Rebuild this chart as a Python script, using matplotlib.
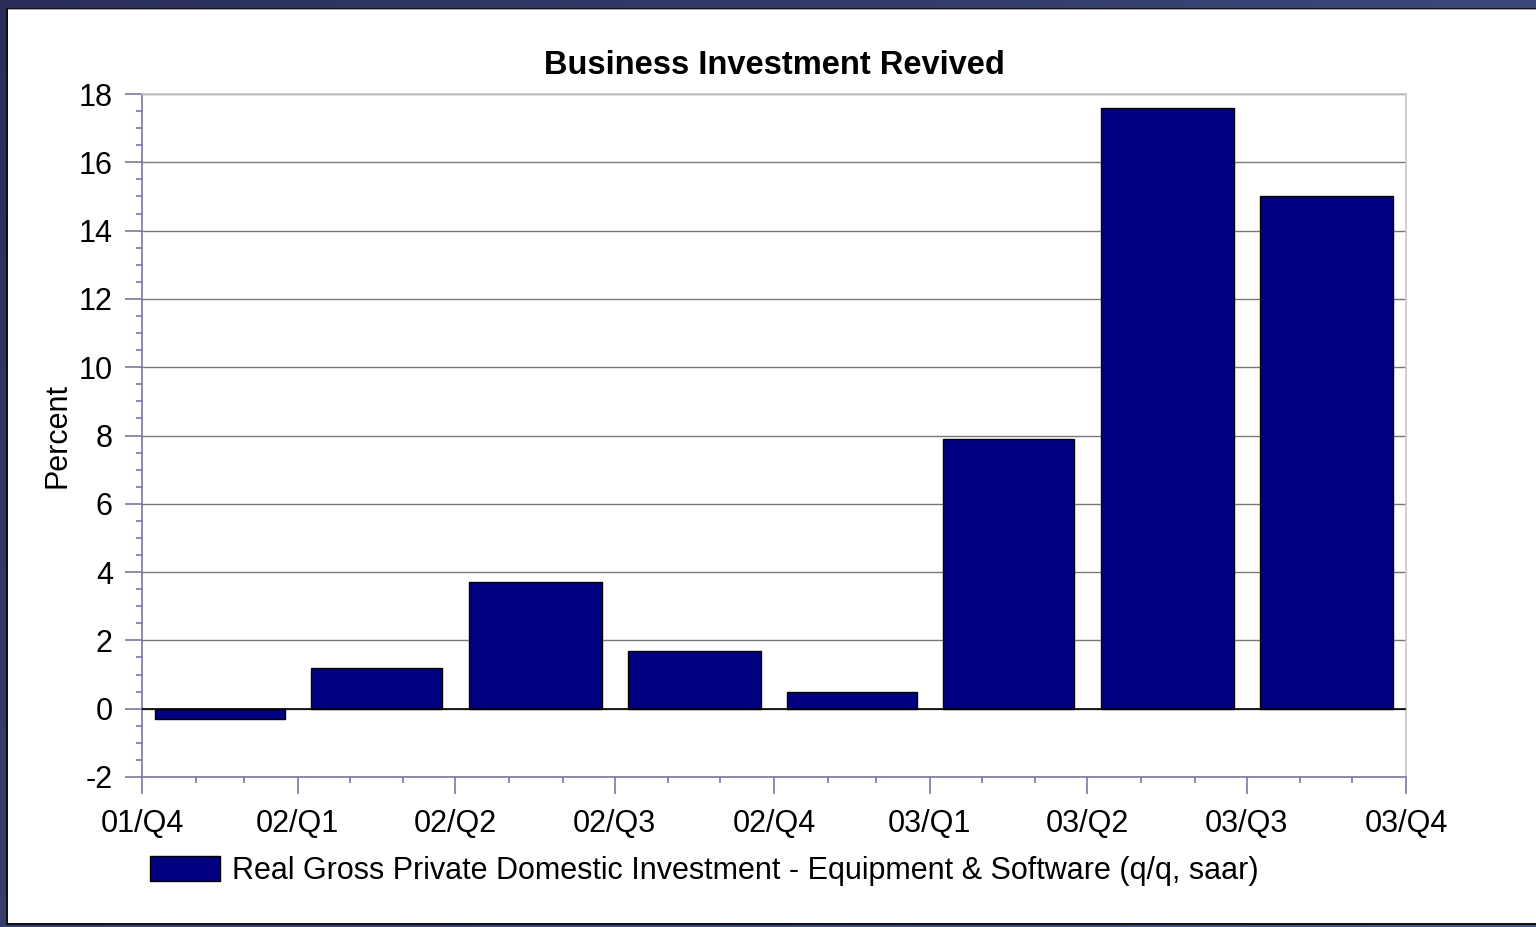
import datetime as dt
import numpy as np
import pandas as pd
import matplotlib
matplotlib.use("Agg")
import matplotlib.pyplot as plt
import matplotlib.dates as mdates
from matplotlib.patches import Rectangle
from matplotlib.ticker import MultipleLocator, FixedLocator

plt.rcParams['font.family'] = ['Liberation Sans', 'DejaVu Sans']
plt.rcParams['axes.unicode_minus'] = False

# Quarter boundaries (axis tick positions) and their labels
tick_labels = ["01/Q4", "02/Q1", "02/Q2", "02/Q3", "02/Q4",
               "03/Q1", "03/Q2", "03/Q3", "03/Q4"]
tick_dates = [dt.date(2001, 12, 31), dt.date(2002, 3, 31), dt.date(2002, 6, 30),
              dt.date(2002, 9, 30), dt.date(2002, 12, 31), dt.date(2003, 3, 31),
              dt.date(2003, 6, 30), dt.date(2003, 9, 30), dt.date(2003, 12, 31)]

# Quarterly growth, q/q saar (%), one value per quarter ending at ticks 2..9
quarters = ["02/Q1", "02/Q2", "02/Q3", "02/Q4", "03/Q1", "03/Q2", "03/Q3", "03/Q4"]
growth = [-0.3, 1.2, 3.7, 1.7, 0.5, 7.9, 17.6, 15.0]

series_name = "Real Gross Private Domestic Investment - Equipment & Software (q/q, saar)"
title = "Business Investment Revived"

W, H = 1536, 927
fig = plt.figure(figsize=(W / 100, H / 100), dpi=100)

# Dark slide frame with a soft gradient, white panel on top
bg = fig.add_axes([0, 0, 1, 1], zorder=-10)
bg.set_axis_off()
gx = np.linspace(0, 1, 256)
gy = np.linspace(0, 1, 64)
grad = 0.6 * gx[None, :] + 0.4 * gy[:, None]
c0 = np.array([0x2a, 0x2e, 0x58]) / 255
c1 = np.array([0x4a, 0x57, 0x8e]) / 255
img = c0[None, None, :] + (c1 - c0)[None, None, :] * grad[:, :, None]
bg.imshow(img, extent=[0, 1, 0, 1], aspect='auto', origin='upper')
bg.set_xlim(0, 1)
bg.set_ylim(0, 1)
bg.add_patch(Rectangle((6 / W, 1 - 925 / H), 1, (925 - 7.5) / H,
                       facecolor='#111111', edgecolor='none'))
bg.add_patch(Rectangle((7.5 / W, 1 - 923 / H), 1, (923 - 9) / H,
                       facecolor='#a8a8a8', edgecolor='none'))
bg.add_patch(Rectangle((8 / W, 1 - 922.5 / H), 1, (922.5 - 10) / H,
                       facecolor='white', edgecolor='none'))

ax = fig.add_axes([142 / W, 1 - 777 / H, (1406 - 142) / W, (777 - 94) / H])
ax.set_facecolor('white')

edges = np.asarray(mdates.date2num(tick_dates))
spans = np.diff(edges)
centers = edges[:-1] + spans / 2
widths = spans * 0.835

bars = ax.bar(centers, growth, width=widths, color='#000080',
              edgecolor='black', linewidth=1.0, zorder=3, label=series_name)

ax.set_xlim(edges[0], edges[-1])
ax.set_ylim(-2, 18)

ax.yaxis.set_major_locator(MultipleLocator(2))
ax.yaxis.set_minor_locator(MultipleLocator(0.5))
ax.set_xticks(edges)
ax.set_xticklabels(tick_labels)
month_ends = mdates.date2num(
    [d.date() for d in pd.date_range(tick_dates[0], tick_dates[-1], freq='ME')])
ax.xaxis.set_minor_locator(FixedLocator([m for m in month_ends if m not in edges]))

axis_col = '#7878a0'
ax.grid(axis='y', which='major', color='#777777', linewidth=1.0, zorder=0)
ax.set_axisbelow(True)
ax.axhline(0, color='black', linewidth=1.2, zorder=4)

for side in ('top', 'right'):
    ax.spines[side].set_color('#c8c8c8')
    ax.spines[side].set_linewidth(1.2)
for side in ('left', 'bottom'):
    ax.spines[side].set_color(axis_col)
    ax.spines[side].set_linewidth(1.2)

ax.tick_params(axis='both', which='major', direction='out', length=12,
               width=1.2, color=axis_col, labelsize=22, pad=9)
ax.tick_params(axis='both', which='minor', direction='out', length=4,
               width=1.2, color=axis_col)
ax.tick_params(axis='x', which='major', pad=11)

ax.set_ylabel("Percent", fontsize=22, va='center')
ax.yaxis.set_label_coords((57 - 142) / (1406 - 142), 0.5)

fig.text((142 + 1406) / 2 / W, 1 - 66 / H, title, ha='center', va='center',
         fontsize=23.5, fontweight='bold')

fig.legend(handles=[bars], labels=[series_name], loc='center left',
           bbox_to_anchor=(150 / W, 1 - 871 / H), frameon=False,
           fontsize=22, handlelength=2.3, handleheight=0.85,
           handletextpad=0.4, borderpad=0, borderaxespad=0)

fig.savefig("out.png", dpi=100)
